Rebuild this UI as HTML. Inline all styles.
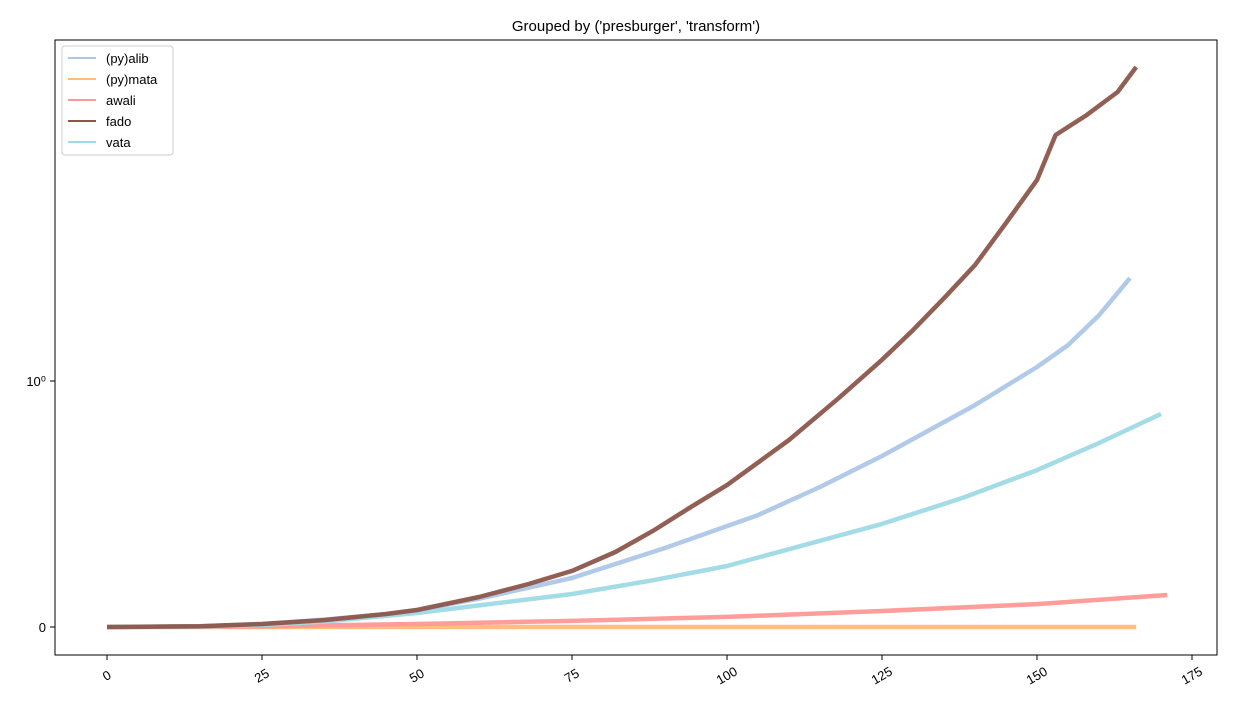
<!DOCTYPE html>
<html><head><meta charset="utf-8"><style>body{margin:0;background:#fff}svg{font-family:"Liberation Sans","DejaVu Sans",sans-serif}</style></head>
<body>
<svg width="1237" height="710">
<text x="636" y="31" font-size="15" text-anchor="middle">Grouped by ('presburger', 'transform')</text>
<g id="plot"></g>
<rect x="55" y="40" width="1162" height="615" fill="none" stroke="#000" stroke-width="1"/>
<g id="axes"></g>
<g>
<rect x="62" y="46" width="111" height="109" fill="#fff" fill-opacity="0.8" stroke="#ccc" rx="3"/>
<g id="legend"></g>
</g>
</svg>
<script>
const seriesNames=["(py)alib","(py)mata","awali","fado","vata"];
const colors=["#aec7e8","#ffbb78","#ff9896","#8c564b","#9edae5"];
const alibX=[0,15,25,35,45,50,60,75,90,105,115,125,140,150,155,160,165];
const alibY=[0,0.003,0.012,0.03,0.052,0.069,0.115,0.199,0.321,0.455,0.569,0.695,0.902,1.14,1.40,1.85,2.62];
const mataX=[0,166];
const mataY=[0,0];
const awaliX=[0,25,50,75,100,125,150,171];
const awaliY=[0,0.003,0.012,0.025,0.041,0.065,0.093,0.130];
const fadoX=[0,15,25,35,45,50,60,68,75,82,88,94,100,110,118,125,130,135,140,145,150,153,158,163,166];
const fadoY=[0,0.003,0.012,0.028,0.053,0.069,0.122,0.175,0.228,0.305,0.39,0.485,0.577,0.76,0.93,1.22,1.61,2.17,2.96,4.39,6.56,10,12.05,14.96,18.9];
const vataX=[0,15,25,35,45,50,60,75,88,100,112,125,138,150,160,170];
const vataY=[0,0.002,0.008,0.022,0.045,0.057,0.088,0.134,0.19,0.248,0.33,0.419,0.525,0.638,0.748,0.866];
const xTicks=[0,25,50,75,100,125,150,175];
const yTicks=[0,1];
const yTickLabels=["0","10⁰"];
const NS="http://www.w3.org/2000/svg";
function xs(v){return 107+v*6.2;}
function ys(v){const t=v<=1?v:1+Math.log10(v);return 627-t*246;}
function mk(tag,attrs,parent){const e=document.createElementNS(NS,tag);for(const k in attrs)e.setAttribute(k,attrs[k]);parent.appendChild(e);return e;}
const plot=document.getElementById('plot');
const all=[[alibX,alibY],[mataX,mataY],[awaliX,awaliY],[fadoX,fadoY],[vataX,vataY]];
const order=[1,2,4,0,3];
order.forEach(i=>{const [X,Y]=all[i];
 const d=X.map((x,j)=>(j?'L':'M')+xs(x).toFixed(1)+','+ys(Y[j]).toFixed(1)).join('');
 const p=mk('path',{d:d,fill:'none',stroke:colors[i],'stroke-width':4.5,'stroke-linejoin':'round','stroke-opacity':0.95},plot);
 
 
});
const axes=document.getElementById('axes');
xTicks.forEach(t=>{const x=xs(t);
 mk('line',{x1:x,x2:x,y1:655,y2:660,stroke:'#000'},axes);
 const tx=mk('text',{x:x,y:680,'font-size':13,'text-anchor':'middle',transform:`rotate(-30 ${x} 676)`},axes);
 tx.textContent=t;
 
 
});
yTicks.forEach((t,i)=>{const y=ys(t);
 mk('line',{x1:50,x2:55,y1:y,y2:y,stroke:'#000'},axes);
 const tx=mk('text',{x:46,y:y+5,'font-size':13,'text-anchor':'end'},axes);
 tx.textContent=yTickLabels[i];
 
 
});
const lg=document.getElementById('legend');
seriesNames.forEach((n,i)=>{const y=58+i*21;
 mk('line',{x1:68,x2:96,y1:y,y2:y,stroke:colors[i],'stroke-width':2},lg);
 const tx=mk('text',{x:106,y:y+5,'font-size':13},lg);
 tx.textContent=n;
 
 
});
</script>
</body></html>
